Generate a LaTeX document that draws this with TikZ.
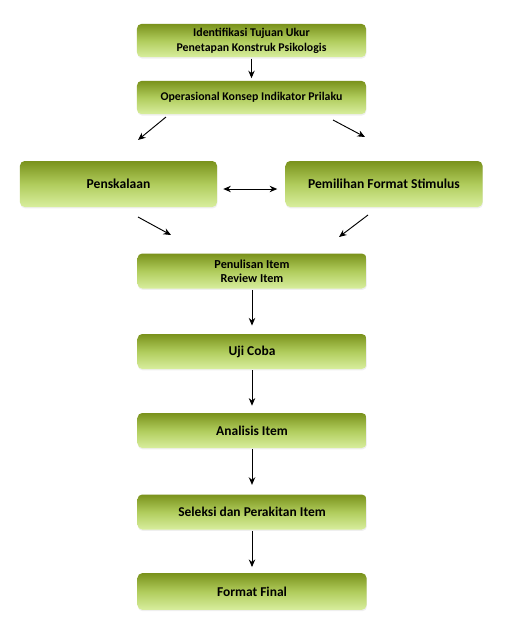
\documentclass[tikz,border=0pt]{standalone}
\usepackage{fontspec}
\setmainfont{Carlito}
\usepackage{tikz}
\usetikzlibrary{arrows.meta,positioning,shadows}
\usepackage{xcolor}
\definecolor{olivetop}{RGB}{122,146,28}
\definecolor{olivemid}{RGB}{176,204,92}
\definecolor{olivebot}{RGB}{216,238,158}
\tikzset{
    blk/.style={rectangle, rounded corners=4pt, top color=olivetop,
                bottom color=olivebot, middle color=olivemid,
                minimum height=1.0cm, minimum width=6.87cm, align=center,
                inner sep=1pt, font=\fontsize{10.1}{12.6}\selectfont\bfseries,
                drop shadow={opacity=0.12, shadow xshift=0.4pt, shadow yshift=-1.2pt}},
    sideblk/.style={blk, minimum height=1.38cm, minimum width=5.91cm,
                    font=\fontsize{11.6}{13}\selectfont\bfseries},
    lowblk/.style={blk, minimum height=1.05cm,
                   font=\fontsize{11.5}{13}\selectfont\bfseries},
    arr/.style={-{Stealth[length=6.5pt,width=5.5pt]}, thick},
    darr/.style={{Stealth[length=6.5pt,width=5.5pt]}-{Stealth[length=6.5pt,width=5.5pt]}, thick},
}

\begin{document}
\begin{tikzpicture}[x=0.03cm, y=-0.03cm]
    \useasboundingbox[fill=white] (0,0) rectangle (509,640);

    % main column
    \node[blk] (tujuan) at (251.5,40.5) {Identifikasi Tujuan Ukur\\Penetapan Konstruk Psikologis};
    \node[blk] (konsep) at (251.5,97.5) {Operasional Konsep Indikator Prilaku};
    \node[sideblk] (skala) at (118.5,184) {Penskalaan};
    \node[sideblk] (stimulus) at (384,184) {Pemilihan Format Stimulus};
    \node[blk, minimum height=1.05cm, font=\fontsize{10.4}{11.6}\selectfont\bfseries] (tulis) at (252,271) {Penulisan Item\\Review Item};
    \node[lowblk] (uji) at (252,351.5) {Uji Coba};
    \node[lowblk] (analisis) at (252,430.5) {Analisis Item};
    \node[lowblk] (seleksi) at (252,512) {Seleksi dan Perakitan Item};
    \node[lowblk, minimum height=1.1cm] (final) at (252,591.5) {Format Final};

    % free ends of the slanted arrows
    \coordinate (k1) at (166,117);
    \coordinate (k2) at (138,140);
    \coordinate (k3) at (333,120);
    \coordinate (k4) at (365,137);
    \coordinate (s1) at (138,217);
    \coordinate (s2) at (171,235);
    \coordinate (s3) at (368,215);
    \coordinate (s4) at (339,237);

    \draw[arr, shorten <=1pt, shorten >=2pt] (tujuan) -- (konsep);
    \draw[arr] (k1) -- (k2);
    \draw[arr] (k3) -- (k4);
    \draw[darr] ([xshift=0.18cm,yshift=-0.15cm]skala.east) -- ([xshift=-0.24cm,yshift=-0.15cm]stimulus.west);
    \draw[arr] (s1) -- (s2);
    \draw[arr] (s3) -- (s4);
    \draw[arr, shorten <=1pt, shorten >=7pt] (tulis) -- (uji);
    \draw[arr, shorten <=1pt, shorten >=6pt] (uji) -- (analisis);
    \draw[arr, shorten <=1pt, shorten >=8pt] (analisis) -- (seleksi);
    \draw[arr, shorten <=1pt, shorten >=5pt] (seleksi) -- (final);
\end{tikzpicture}
\end{document}
